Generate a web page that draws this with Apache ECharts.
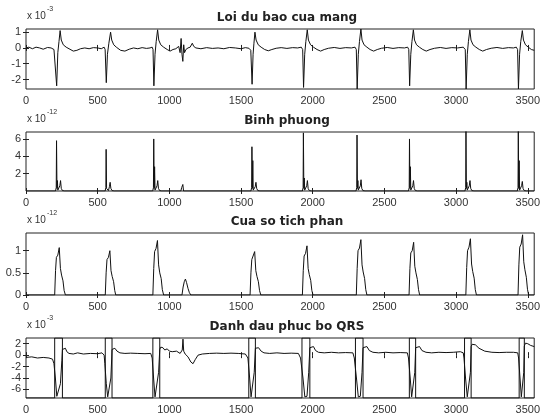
<!DOCTYPE html>
<html>
<head>
<meta charset="utf-8">
<script src="https://cdn.jsdelivr.net/npm/echarts@6/dist/echarts.min.js"></script>
<style>
  html, body { margin: 0; padding: 0; background: #fff; }
  #main { width: 543px; height: 416px; }
</style>
</head>
<body>
<div id="main"></div>
<script>
// titles of the four panels
var titles = ["Loi du bao cua mang", "Binh phuong", "Cua so tich phan", "Danh dau phuc bo QRS"];
var exponents = ["-3", "-12", "-12", "-3"];
var xTicks = [0, 500, 1000, 1500, 2000, 2500, 3000, 3500];

// panel 1: prediction error (x 10^-3)
var errSignal = [
  [0,0],[20,0.05],[45,-0.05],[70,0.05],[95,0],[120,-0.08],[150,0.03],[175,0],[195,-0.1],[205,-0.15],
  [214,-2.4],[222,-0.3],[230,0.4],[238,1.1],[246,0.5],[260,0.2],[280,0.05],[300,-0.05],[330,-0.2],[355,-0.15],[380,-0.05],[410,0],[440,-0.05],[470,0.02],[500,0],[525,-0.05],[545,0.05],[552,-0.1],
  [560,-2.2],[568,-0.4],[578,0.3],[590,1.0],[598,0.5],[612,0.2],[630,0.05],[660,-0.15],[690,-0.2],[720,-0.08],[750,0],[780,-0.05],[810,0.02],[840,-0.03],[865,0],[880,0.05],[886,-0.1],
  [892,-2.4],[900,-0.4],[908,0.4],[918,1.15],[926,0.5],[940,0.2],[960,0.05],[985,-0.1],[1005,-0.2],[1025,-0.1],[1045,-0.05],[1065,0.1],[1075,-0.3],[1082,0.6],[1088,-0.4],[1094,-0.85],[1100,0.2],[1106,-0.3],[1115,-0.1],[1130,0],[1145,0.05],[1160,0.3],[1170,0.1],[1185,0],[1220,-0.05],[1260,0.02],[1300,-0.03],[1340,0],[1380,-0.05],[1420,0.03],[1460,0],[1500,-0.05],[1530,0.02],[1555,-0.02],[1568,-0.15],
  [1577,-2.3],[1584,-0.4],[1590,0.3],[1597,1.0],[1605,0.5],[1620,0.2],[1640,0.05],[1665,-0.1],[1690,-0.18],[1715,-0.1],[1745,-0.02],[1780,0.02],[1820,-0.03],[1860,0.02],[1895,0],[1920,0.05],[1930,-0.1],
  [1936,-2.5],[1944,-0.4],[1952,0.4],[1962,1.15],[1970,0.5],[1985,0.2],[2005,0.05],[2030,-0.1],[2055,-0.2],[2080,-0.1],[2110,-0.02],[2150,0.03],[2190,-0.03],[2230,0.02],[2270,0],[2295,0.05],[2304,-0.1],
  [2310,-2.6],[2318,-0.4],[2326,0.4],[2336,1.2],[2344,0.5],[2358,0.2],[2378,0.05],[2400,-0.1],[2425,-0.2],[2450,-0.1],[2480,-0.02],[2520,0.03],[2560,-0.03],[2600,0.02],[2640,0],[2662,0.05],[2670,-0.1],
  [2676,-2.4],[2684,-0.4],[2692,0.4],[2702,1.15],[2710,0.5],[2724,0.2],[2744,0.05],[2768,-0.1],[2792,-0.2],[2818,-0.1],[2850,-0.02],[2890,0.03],[2930,-0.03],[2970,0.02],[3010,0],[3050,0.05],[3064,-0.1],
  [3070,-2.6],[3078,-0.4],[3086,0.4],[3096,1.15],[3104,0.5],[3118,0.2],[3138,0.05],[3162,-0.1],[3186,-0.2],[3212,-0.1],[3245,-0.02],[3285,0.03],[3325,-0.03],[3365,0.02],[3400,0],[3420,0.05],[3429,-0.1],
  [3435,-2.6],[3443,-0.4],[3451,0.4],[3462,1.1],[3470,0.5],[3484,0.2],[3504,0.05],[3525,-0.1],[3545,-0.15]
];

// panel 2: squared signal (x 10^-12)
var sqSignal = [
  [0,0],[206,0],[211,0.4],[213,5.8],[216,0.3],[219,1.2],[222,0.1],[229,0.05],[236,0.6],[241,1.2],[246,0.3],[254,0.05],[270,0],
  [552,0],[557,0.4],[559,4.8],[562,0.3],[565,0.5],[568,0.1],[575,0.05],[582,0.5],[587,1.0],[592,0.3],[600,0.05],[615,0],
  [884,0],[889,0.4],[891,6.0],[894,0.3],[897,2.8],[900,0.1],[907,0.05],[914,0.6],[919,1.2],[924,0.3],[932,0.05],[947,0],
  [1080,0],[1086,0.4],[1090,0.6],[1094,0.75],[1099,0],
  [1569,0],[1574,0.4],[1576,5.1],[1579,0.3],[1582,3.5],[1585,0.1],[1592,0.05],[1599,0.5],[1604,1.0],[1609,0.3],[1617,0.05],[1632,0],
  [1928,0],[1933,0.4],[1935,6.7],[1938,0.3],[1941,1.5],[1944,0.1],[1951,0.05],[1958,0.6],[1963,1.2],[1968,0.3],[1976,0.05],[1991,0],
  [2302,0],[2307,0.4],[2309,6.45],[2312,0.3],[2315,1.2],[2318,0.1],[2325,0.05],[2332,0.6],[2337,1.3],[2342,0.3],[2350,0.05],[2365,0],
  [2668,0],[2673,0.4],[2675,6.0],[2678,0.3],[2681,2.8],[2684,0.1],[2691,0.05],[2698,0.6],[2703,1.2],[2708,0.3],[2716,0.05],[2731,0],
  [3062,0],[3067,0.4],[3069,6.9],[3072,0.3],[3075,1.0],[3078,0.1],[3085,0.05],[3092,0.6],[3097,1.2],[3102,0.3],[3110,0.05],[3125,0],
  [3427,0],[3432,0.4],[3434,6.9],[3437,0.3],[3440,3.5],[3443,0.1],[3450,0.05],[3457,0.6],[3462,1.1],[3467,0.3],[3475,0.05],[3490,0],
  [3545,0]
];

// panel 3: moving window integration (x 10^-12)
var mwiSignal = [
  [0,0],
  [200,0],[206,0.55],[212,0.85],[222,0.9],[232,1.07],[240,0.6],[248,0.45],[258,0.32],[266,0.1],[275,0],
  [553,0],[559,0.5],[565,0.8],[575,0.85],[585,1.0],[593,0.55],[601,0.42],[611,0.3],[619,0.1],[626,0],
  [885,0],[891,0.6],[897,0.98],[907,1.05],[917,1.23],[925,0.68],[933,0.5],[943,0.37],[951,0.12],[960,0],
  [1088,0],[1096,0.18],[1104,0.3],[1112,0.36],[1120,0.28],[1130,0.15],[1140,0.05],[1150,0],
  [1563,0],[1569,0.5],[1575,0.8],[1585,0.83],[1595,0.98],[1603,0.55],[1611,0.42],[1621,0.3],[1629,0.1],[1638,0],
  [1928,0],[1934,0.55],[1940,0.88],[1950,0.94],[1960,1.11],[1968,0.6],[1976,0.46],[1986,0.33],[1994,0.1],[2002,0],
  [2304,0],[2310,0.6],[2316,1.0],[2326,1.06],[2336,1.25],[2344,0.68],[2352,0.52],[2362,0.37],[2370,0.12],[2378,0],
  [2672,0],[2678,0.6],[2684,0.95],[2694,1.0],[2704,1.19],[2712,0.65],[2720,0.5],[2730,0.35],[2738,0.12],[2746,0],
  [3068,0],[3074,0.62],[3080,1.0],[3090,1.08],[3100,1.27],[3108,0.7],[3116,0.53],[3126,0.38],[3134,0.12],[3142,0],
  [3432,0],[3438,0.68],[3444,1.08],[3454,1.15],[3464,1.36],[3472,0.75],[3480,0.57],[3490,0.4],[3498,0.13],[3506,0],
  [3545,0]
];

// panel 4: filtered ECG (x 10^-3) and QRS marker pulses
var ecgSignal = [
  [0,-0.4],[40,-0.3],[80,-0.5],[120,-0.4],[160,-0.5],[185,-0.7],[195,-1.5],
  [205,-4],[215,-7.2],[228,-7.4],[240,-5],[250,-1],[254,1.0],
  [262,1.3],[275,1.2],[285,0.6],[300,0.3],[330,0.2],[360,0.4],[400,0.2],[450,0.3],[500,0.25],[530,0.4],[545,0],[550,-1.5],
  [560,-5],[570,-7.3],[582,-7.2],[592,-4],[598,-0.5],[600,1.0],
  [606,1.3],[620,1.2],[635,0.7],[655,0.4],[690,0.3],[730,0.35],[780,0.3],[830,0.25],[870,0.3],[880,-0.5],
  [890,-4],[900,-7.3],[913,-7.3],[925,-3],[933,1.0],
  [940,1.4],[955,1.3],[968,0.9],[985,1.1],[1000,0.7],[1020,0.6],[1050,0.7],[1075,0.3],[1090,0.9],[1095,2.8],[1100,0.7],[1110,0.2],[1130,-0.3],[1150,-1.2],[1165,-1.5],[1180,-0.8],[1200,0],[1230,0.2],[1280,0.3],[1330,0.35],[1380,0.3],[1430,0.35],[1480,0.3],[1530,0.2],[1548,-0.5],
  [1560,-4],[1570,-7.3],[1582,-7.2],[1592,-3],[1600,1.2],
  [1608,1.4],[1622,1.3],[1640,0.7],[1660,0.4],[1700,0.3],[1750,0.4],[1800,0.3],[1850,0.35],[1900,0.3],[1915,-0.5],
  [1932,-4],[1945,-7.3],[1960,-7.2],[1972,-3],[1980,1.3],
  [1988,1.6],[2005,1.5],[2020,0.8],[2040,0.5],[2080,0.4],[2130,0.5],[2180,0.4],[2230,0.45],[2280,0.4],[2290,-0.5],
  [2305,-4],[2318,-7.3],[2332,-7.2],[2344,-3],[2351,1.3],
  [2360,1.6],[2378,1.5],[2395,0.8],[2420,0.5],[2460,0.4],[2510,0.5],[2560,0.4],[2610,0.45],[2660,0.4],[2668,-0.5],
  [2680,-4],[2690,-7.3],[2702,-7.2],[2712,-3],[2718,1.3],
  [2726,1.6],[2745,1.5],[2762,0.8],[2790,0.5],[2830,0.4],[2880,0.5],[2930,0.45],[2980,0.5],[3030,0.6],[3050,0.4],[3055,-0.5],
  [3066,-4],[3078,-7.3],[3090,-7.2],[3100,-3],[3105,1.5],
  [3112,1.9],[3135,1.8],[3160,1.2],[3200,0.7],[3250,0.5],[3300,0.45],[3350,0.5],[3400,0.5],[3430,0.4],[3436,-0.5],
  [3446,-4],[3455,-7.3],[3465,-7.2],[3472,-3],[3476,1.6],
  [3484,2.1],[3500,2.0],[3520,1.7],[3545,1.5]
];
var pulseStart = [200, 553, 885, 1554, 1925, 2298, 2674, 3059, 3440];
var pulseEnd   = [254, 600, 933, 1600, 1980, 2351, 2718, 3105, 3476];
var pulseLow = -7.5, pulseHigh = 3.0;

// build the step pulse line
var pulseData = [[0, pulseLow]];
for (var i = 0; i < pulseStart.length; i++) {
  pulseData.push([pulseStart[i], pulseLow], [pulseStart[i], pulseHigh],
                 [pulseEnd[i], pulseHigh], [pulseEnd[i], pulseLow]);
}
pulseData.push([3545, pulseLow]);

var chart = echarts.init(document.getElementById("main"));
var font = "Liberation Sans, Arial, sans-serif";
var XMAX = 3545;

var panels = [
  { top: 29,  height: 60, min: -2.6, max: 1.2, ticks: [-2, -1, 0, 1], data: [errSignal] },
  { top: 132, height: 59, min: 0,    max: 6.8, ticks: [2, 4, 6],      data: [sqSignal] },
  { top: 233, height: 62, min: 0,    max: 1.4, ticks: [0, 0.5, 1],    data: [mwiSignal] },
  { top: 338, height: 60, min: -7.5, max: 3.0, ticks: [-6, -4, -2, 0, 2], data: [ecgSignal, pulseData] }
];

var grids = [], xAxes = [], yAxes = [], series = [], titleList = [], graphics = [];
panels.forEach(function (p, k) {
  grids.push({ left: 26, width: 512, top: p.top, height: p.height, show: true,
               borderColor: "#222", borderWidth: 1, backgroundColor: "#fff" });
  var xBase = {
    gridIndex: k, type: "value", min: 0, max: XMAX,
    axisLine: { show: false }, splitLine: { show: false },
    axisTick: { show: true, inside: true, length: 3, customValues: xTicks, lineStyle: { color: "#222" } }
  };
  xAxes.push(Object.assign({}, xBase, { position: "bottom",
    axisLabel: { show: true, color: "#333", fontSize: 11, fontFamily: font, margin: 6,
                 customValues: xTicks, formatter: function (v) { return String(v); } } }));
  xAxes.push(Object.assign({}, xBase, { position: "top", axisLabel: { show: false } }));
  var yBase = {
    gridIndex: k, type: "value", min: p.min, max: p.max,
    axisLine: { show: false }, splitLine: { show: false },
    axisTick: { show: true, inside: true, length: 3, customValues: p.ticks, lineStyle: { color: "#222" } }
  };
  yAxes.push(Object.assign({}, yBase, { position: "left",
    axisLabel: { show: true, color: "#333", fontSize: 11, fontFamily: font, margin: 5,
                 customValues: p.ticks } }));
  yAxes.push(Object.assign({}, yBase, { position: "right", axisLabel: { show: false } }));
  p.data.forEach(function (d) {
    series.push({ type: "line", xAxisIndex: 2 * k, yAxisIndex: 2 * k, data: d,
                  showSymbol: false, silent: true, clip: true,
                  lineStyle: { color: "#111", width: 1 } });
  });
  titleList.push({ text: titles[k], left: 282, top: p.top - 22, textAlign: "center",
                   textStyle: { fontSize: 12, fontWeight: "bold", fontFamily: "DejaVu Sans, sans-serif", color: "#222" } });
  graphics.push({ type: "text", left: 27, top: p.top - 18,
                  style: { text: "x 10", fontSize: 10, fontFamily: font, fill: "#333" } });
  graphics.push({ type: "text", left: 47, top: p.top - 23,
                  style: { text: exponents[k], fontSize: 7, fontFamily: font, fill: "#333" } });
});

var option = {
  animation: false,
  backgroundColor: "#fff",
  title: titleList,
  grid: grids,
  xAxis: xAxes,
  yAxis: yAxes,
  series: series,
  graphic: graphics
};
chart.setOption(option);
</script>
</body>
</html>
